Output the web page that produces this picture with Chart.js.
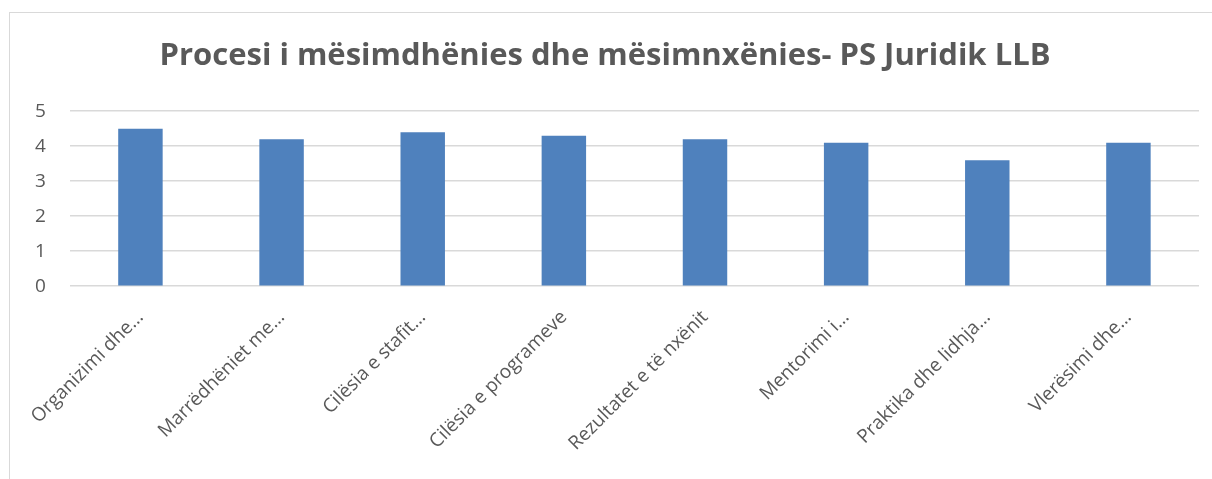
<!DOCTYPE html>
<html lang="sq">

<head>
    <meta charset="UTF-8" />
    <title>Procesi i mësimdhënies dhe mësimnxënies- PS Juridik LLB</title>
    <script src="https://cdn.jsdelivr.net/npm/chart.js"></script>
    <style>
        body {
            margin: 0;
            background: #fff;
        }

        .kutia {
            position: absolute;
            left: 9px;
            top: 12px;
            width: 1220px;
            height: 480px;
            border: 1px solid #d9d9d9;
            box-sizing: border-box;
        }

        .grafiku {
            position: absolute;
            left: 10px;
            top: 13px;
            width: 1202px;
            height: 466px;
        }
    </style>
</head>

<body>

    <div class="kutia"></div>
    <div class="grafiku">
        <canvas id="grafikuProcesi"></canvas>
    </div>

</body>

<script>
    const kategorite = [
        'Organizimi dhe…',
        'Marrëdhëniet me…',
        'Cilësia e stafit…',
        'Cilësia e programeve',
        'Rezultatet e të nxënit',
        'Mentorimi i…',
        'Praktika dhe lidhja…',
        'Vlerësimi dhe…'
    ];
    const vlerat = [4.5, 4.2, 4.4, 4.3, 4.2, 4.1, 3.6, 4.1];
    const titulli = 'Procesi i mësimdhënies dhe mësimnxënies- PS Juridik LLB';

    const ngjyraTekstit = '#595959';
    const ngjyraRrjetit = '#d9d9d9';

    const data = {
        labels: kategorite,
        datasets: [{
            label: 'Procesi',
            backgroundColor: '#4f81bd',
            borderWidth: 0,
            categoryPercentage: 1,
            barPercentage: 0.315,
            data: vlerat
        }]
    };

    const config = {
        type: 'bar',
        data: data,
        options: {
            responsive: true,
            maintainAspectRatio: false,
            animation: false,
            layout: {
                padding: { left: 1, right: 13, top: 0, bottom: 12 }
            },
            scales: {
                x: {
                    grid: {
                        display: false
                    },
                    border: {
                        display: false
                    },
                    ticks: {
                        color: ngjyraTekstit,
                        font: { family: 'Open Sans', size: 19 },
                        maxRotation: 45,
                        minRotation: 45,
                        autoSkip: false,
                        padding: 12
                    }
                },
                y: {
                    min: 0,
                    max: 5,
                    grid: {
                        color: ngjyraRrjetit,
                        lineWidth: 1.5,
                        drawTicks: false
                    },
                    border: {
                        display: false
                    },
                    ticks: {
                        color: ngjyraTekstit,
                        font: { family: 'Open Sans', size: 19 },
                        stepSize: 1,
                        padding: 24
                    }
                }
            },
            plugins: {
                legend: {
                    display: false
                },
                tooltip: {
                    enabled: false
                },
                title: {
                    display: true,
                    text: titulli,
                    color: ngjyraTekstit,
                    font: { family: 'Open Sans', size: 31, weight: 'bold' },
                    padding: { top: 25, bottom: 36 }
                }
            }
        }
    };

    const grafiku = new Chart(
        document.getElementById('grafikuProcesi'),
        config
    );
</script>

</html>
